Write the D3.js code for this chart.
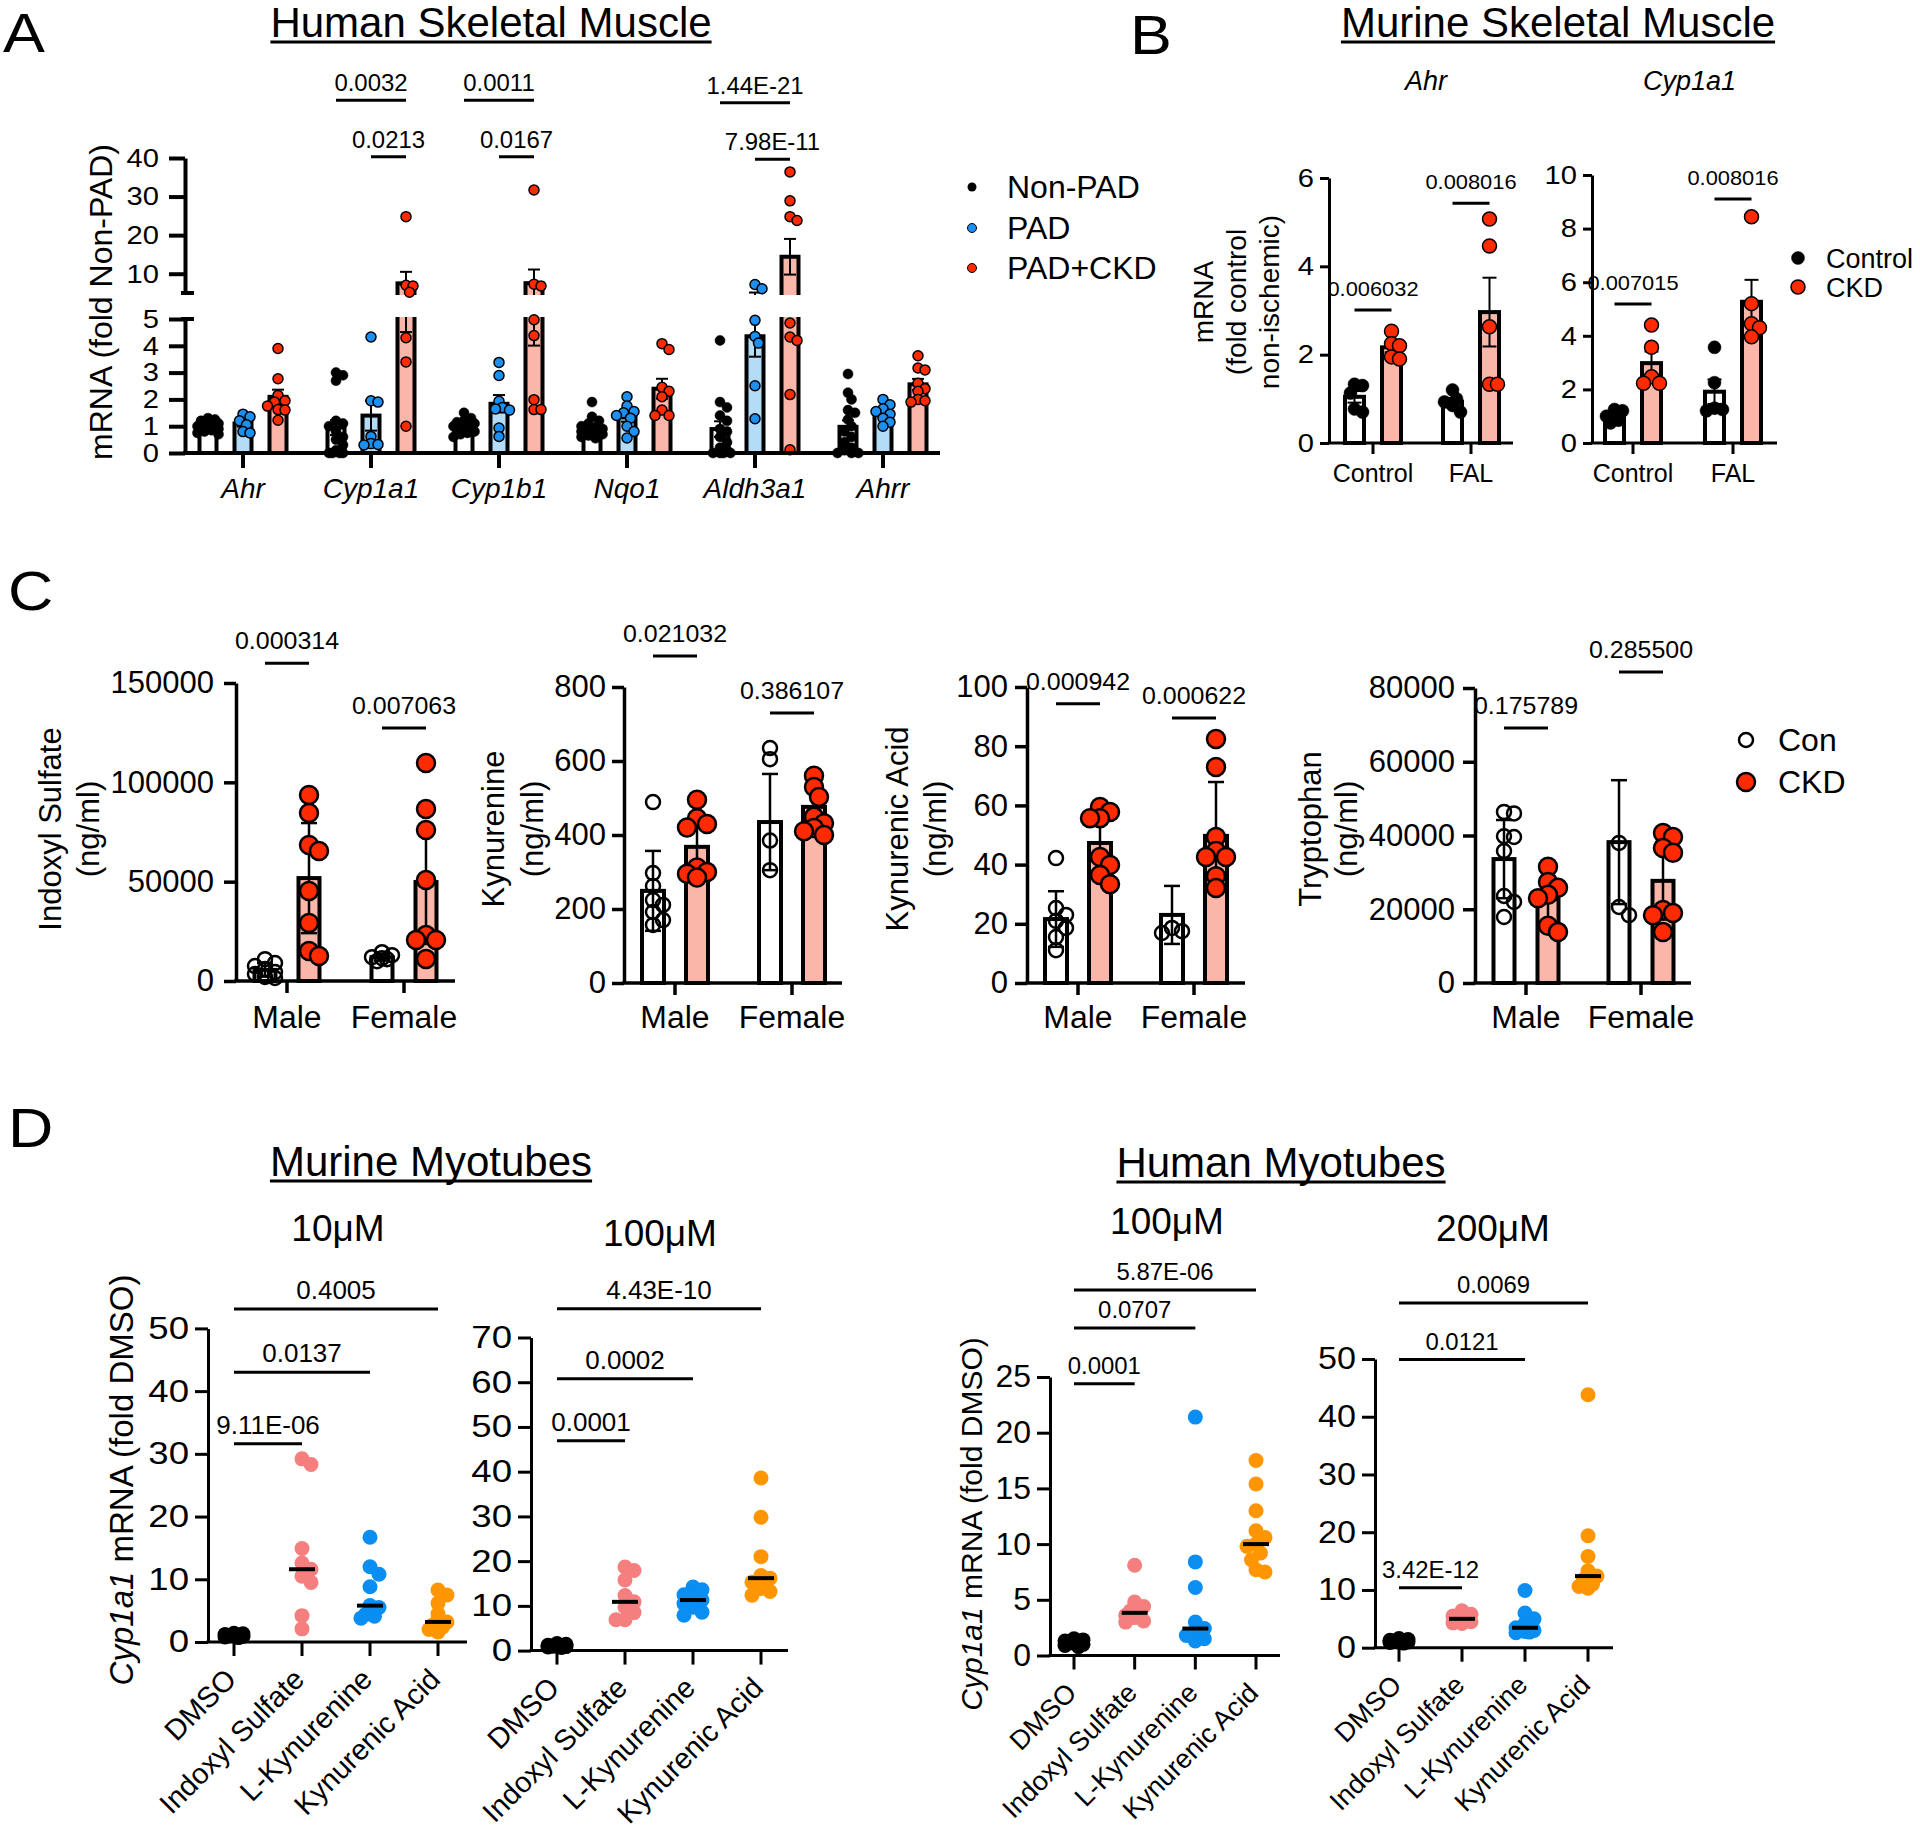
<!DOCTYPE html>
<html><head><meta charset="utf-8">
<script src="https://cdn.jsdelivr.net/npm/d3@7"></script>
<style>body{margin:0;background:#fff}svg{display:block}</style>
</head><body>
<script>
// ===================== DATA =====================
// Panel A – Human skeletal muscle (fold Non-PAD)
const aGenes = ["Ahr","Cyp1a1","Cyp1b1","Nqo1","Aldh3a1","Ahrr"];
const aGroups = ["Non-PAD","PAD","PAD+CKD"];
const aNonPAD = [
  [1.3,1.25,1.2,1.15,1.1,1.05,1.0,1.0,0.95,0.9,0.9,0.85,0.8,0.75,0.7],
  [3.0,2.9,2.7,1.2,1.1,1.0,0.8,0.6,0.5,0.3,0.1,0,0,0,0],
  [1.5,1.3,1.2,1.15,1.1,1.05,1.0,1.0,0.95,0.9,0.85,0.8,0.75,0.7,0.6],
  [1.9,1.35,1.2,1.1,1.0,0.95,0.9,0.85,0.8,0.75,0.7,0.65,0.6,0.55],
  [4.2,1.9,1.7,1.4,1.2,0.9,0.8,0.6,0.4,0.2,0.1,0,0,0,0],
  [2.95,2.25,2.0,1.6,1.5,1.25,1.0,0.8,0.6,0.4,0.2,0.1,0,0,0]
];
const aPAD = [
  [1.45,1.35,1.2,1.05,0.8,0.75],
  [4.33,1.95,1.9,0.62,0.35,0.32,0.3],
  [3.38,2.89,1.93,1.7,1.64,1.6,0.93,0.62],
  [2.1,1.75,1.55,1.5,1.4,1.3,1.0,0.8,0.56],
  [7.2,6.1,4.95,4.35,4.1,2.51,1.28],
  [2.0,1.8,1.65,1.55,1.45,1.3,1.15,1.0]
];
const aPADCKD = [
  [3.9,2.77,2.15,1.95,1.9,1.75,1.62,1.6,1.22],
  [24.8,7.0,6.8,5.2,4.3,3.4,1.0],
  [31.7,7.3,6.8,4.97,4.38,1.99,1.62,1.62],
  [4.08,3.86,2.45,2.3,2.1,1.6,1.4,1.4],
  [36.4,28.9,24.8,23.8,4.85,4.33,4.2,2.18,0.12],
  [3.63,3.17,3.1,2.6,2.4,2.3,2.0,1.95,1.9]
];
const aLowTicks = [0,1,2,3,4,5];
const aHighTicks = [10,20,30,40];
const aSigGene = ["Cyp1a1","Cyp1a1","Cyp1b1","Cyp1b1","Aldh3a1","Aldh3a1"];
const aSigFrom = [0,1,0,1,0,1];
const aSigTo = [2,2,2,2,2,2];
const aSigP = ["0.0032","0.0213","0.0011","0.0167","1.44E-21","7.98E-11"];
const aSigLevel = [55,40.3,55,40.3,54.3,39.7];

// Panel B – Murine skeletal muscle
const bSurgery = ["Control","FAL"];
const bSeries = ["Control","CKD"];
const bAhrControl = [[1.33,1.3,1.13,0.77,0.7],[1.2,1.0,0.93,0.85,0.7]];
const bAhrCKD = [[2.53,2.25,2.2,1.95,1.9],[5.07,4.46,2.63,1.33,1.33]];
const bCypControl = [[1.25,1.2,1.0,0.85,0.75],[3.57,2.25,1.3,1.25,1.2]];
const bCypCKD = [[4.4,3.57,2.47,2.23,2.23],[8.44,5.2,4.45,4.3,3.96]];
const bAhrTicks = [0,2,4,6];
const bCypTicks = [0,2,4,6,8,10];
const bAhrP = ["0.006032","0.008016"];
const bAhrPLevel = [3.01,5.43];
const bCypP = ["0.007015","0.008016"];
const bCypPLevel = [5.19,9.1];

// Panel C – serum metabolites (mean, SD) [sex][Con, CKD]
const cSex = ["Male","Female"];
const cIndoxylCon = [[11000,9000,7500,6000,4500,3500,2000,1500],[14500,13000,12000,11500,11000,10000]];
const cIndoxylCKD = [[93600,84600,68500,65400,45300,29200,15100,12600],[109700,86600,76000,50800,23100,20600,20600,11100]];
const cIndoxylMean = [[5600,51800],[12000,49800]];
const cIndoxylSD = [[3400,27700],[1700,26200]];
const cIndoxylTicks = [0,50000,100000,150000];
const cIndoxylP = ["0.000314","0.007063"];
const cIndoxylPLevel = [160000,127350];

const cKynCon = [[489,297,262,224,211,192,170,157],[635,605,385,305]];
const cKynCKD = [[495,445,430,420,312,300,295,285],[560,530,503,449,432,419,410,400]];
const cKynMean = [[249,368],[435,476]];
const cKynSD = [[108,75],[130,55]];
const cKynTicks = [0,200,400,600,800];
const cKynP = ["0.021032","0.386107"];
const cKynPLevel = [884,730];

const cKACon = [[42.2,25.3,23,21,18.6,15.5,11.1],[18.6,17.5,16.9]];
const cKACKD = [[59.5,57.8,55.7,55.7,42.6,39.9,36.5,33.4],[82.4,73,49.3,44.6,42.6,42.6,36.1,32.1]];
const cKAMean = [[21.6,47.3],[23,49.7]];
const cKASD = [[9.4,10.5],[9.8,18.2]];
const cKATicks = [0,20,40,60,80,100];
const cKAP = ["0.000942","0.000622"];
const cKAPLevel = [94.3,89.5];

const cTrpCon = [[46400,46000,39800,39600,35800,23600,22000,17900],[38000,20600,18400]];
const cTrpCKD = [[31500,27400,25800,23900,23000,15500,13800],[40700,39600,36600,35300,19800,19000,18400,13800]];
const cTrpMean = [[33600,22800],[38200,27700]];
const cTrpSD = [[10600,6000],[16800,10500]];
const cTrpTicks = [0,20000,40000,60000,80000];
const cTrpP = ["0.175789","0.285500"];
const cTrpPLevel = [69150,84340];

// Panel D – myotubes (Cyp1a1 fold DMSO)
const dTreatments = ["DMSO","Indoxyl Sulfate","L-Kynurenine","Kynurenic Acid"];
const dMurine10 = [
  [1.4,1.3,1.2,1.1,1.0,0.9,0.8,0.7,1.0],
  [29.2,28.3,14.9,12.6,11.6,10.5,9.5,4.2,2.1],
  [16.7,12.0,10.8,8.8,5.8,5.5,4.4,4.1,3.8],
  [8.3,7.5,6.2,4.5,3.2,2.8,2.4,2.0,1.6]
];
const dMurine100 = [
  [1.6,1.4,1.2,1.1,1.0,0.9,0.8,0.7,1.0],
  [18.7,17.9,15.8,12.3,10.9,9.7,8.5,6.9,6.9],
  [14.2,13.6,12.5,11.9,11.3,10.5,9.7,8.6,7.9],
  [38.6,29.8,21.0,16.8,16.2,15.3,13.9,13.2,12.4]
];
const dHuman100 = [
  [1.5,1.4,1.3,1.2,1.1,1.0,0.9,0.8,1.2],
  [8.1,4.8,4.4,4.0,3.83,3.6,3.4,3.1,3.0],
  [21.4,8.4,6.1,3.0,2.42,2.0,1.8,1.5,1.3],
  [17.5,15.4,13.0,11.2,10.6,10.0,9.8,9.2,8.6,7.7,7.5]
];
const dHuman200 = [
  [1.6,1.4,1.3,1.2,1.1,1.0,0.9,0.8,1.0],
  [6.4,5.8,5.5,5.2,5.0,4.8,4.5,4.3,4.2],
  [9.9,6.0,5.0,4.2,3.45,3.0,2.8,2.7,2.6],
  [43.8,19.4,15.8,13.3,12.4,11.8,11.0,10.6,10.3]
];
const dM10Ticks = [0,10,20,30,40,50];
const dM100Ticks = [0,10,20,30,40,50,60,70];
const dH100Ticks = [0,5,10,15,20,25];
const dH200Ticks = [0,10,20,30,40,50];
const dM10P = ["9.11E-06","0.0137","0.4005"], dM10PLevel = [31.6,43,53.1];
const dM100P = ["0.0001","0.0002","4.43E-10"], dM100PLevel = [46.9,60.8,76.4];
const dH100P = ["0.0001","0.0707","5.87E-06"], dH100PLevel = [24.4,29.4,32.8];
const dH200P = ["3.42E-12","0.0121","0.0069"], dH200PLevel = [10.4,49.9,59.7];

// ===================== HELPERS =====================
const FONT = '"Liberation Sans", Arial, Helvetica, sans-serif';
const svg = d3.select("body").append("svg").attr("width",1920).attr("height",1830).attr("font-family",FONT);
svg.append("rect").attr("width",1920).attr("height",1830).attr("fill","#fff");
const defs = svg.append("defs");

function stretch(sel,k){
  if(!k||k===1)return;
  sel.each(function(){const w=this.getComputedTextLength();this.setAttribute("textLength",w*k);this.setAttribute("lengthAdjust","spacingAndGlyphs");});
}
function txt(g,x,y,s,size,o={}){
  const t=g.append("text").attr("x",x).attr("y",y).attr("font-size",size).attr("fill","#000").text(s);
  if(o.anchor)t.attr("text-anchor",o.anchor);
  if(o.italic)t.attr("font-style","italic");
  if(o.k)stretch(t,o.k);
  return t;
}
function vtxt(g,x,y,s,size){
  return g.append("text").attr("transform",`translate(${x},${y}) rotate(-90)`).attr("text-anchor","middle")
    .attr("dy","0.35em").attr("font-size",size).attr("fill","#000").text(s);
}
function titleU(g,cx,y,s,size){
  const t=txt(g,cx,y,s,size,{anchor:"middle"});
  const w=t.node().getComputedTextLength();
  g.append("line").attr("x1",cx-w/2).attr("x2",cx+w/2).attr("y1",y+5).attr("y2",y+5).attr("stroke","#000").attr("stroke-width",3);
}
function yAxis(g,x,scale,ticks,o){
  const a=g.append("g").attr("transform",`translate(${x},0)`)
    .call(d3.axisLeft(scale).tickValues(ticks).tickSize(o.size).tickPadding(o.pad).tickSizeOuter(0).tickFormat(d=>String(d)));
  a.attr("font-family",FONT).attr("font-size",o.font);
  a.select(".domain").attr("stroke","#000").attr("stroke-width",o.sw);
  a.selectAll(".tick line").attr("stroke","#000").attr("stroke-width",o.sw);
  a.selectAll(".tick text").attr("fill","#000");
  stretch(a.selectAll(".tick text"),o.k);
  return a;
}
function xAxisLine(g,x0,x1,y,ticksX,len,sw){
  g.append("line").attr("x1",x0-sw/2).attr("x2",x1).attr("y1",y).attr("y2",y).attr("stroke","#000").attr("stroke-width",sw);
  ticksX.forEach(tx=>g.append("line").attr("x1",tx).attr("x2",tx).attr("y1",y).attr("y2",y+len).attr("stroke","#000").attr("stroke-width",sw));
}
function errBar(g,cx,y1,y2,capW,sw){
  g.append("line").attr("x1",cx).attr("x2",cx).attr("y1",y1).attr("y2",y2).attr("stroke","#000").attr("stroke-width",sw);
  [y1,y2].forEach(yy=>g.append("line").attr("x1",cx-capW/2).attr("x2",cx+capW/2).attr("y1",yy).attr("y2",yy).attr("stroke","#000").attr("stroke-width",sw));
}
function sigBar(g,x1,x2,y,label,font,gap,sw){
  g.append("line").attr("x1",x1).attr("x2",x2).attr("y1",y).attr("y2",y).attr("stroke","#000").attr("stroke-width",sw);
  txt(g,(x1+x2)/2,y-gap,label,font,{anchor:"middle",k:1.04});
}
// deterministic beeswarm offsets
function swarm(vals,yf,minDist,step,maxOff){
  const idx=vals.map((v,i)=>i).sort((a,b)=>vals[b]-vals[a]);
  const placed=[],off=new Array(vals.length).fill(0);
  const nk=2*Math.floor(maxOff/step);
  idx.forEach(i=>{
    const y=yf(vals[i]);let best=0,bestScore=Infinity;
    for(let k=0;k<=nk;k++){
      const o=(k%2?1:-1)*Math.ceil(k/2)*step;
      let worst=0;
      for(const p of placed){const d=Math.hypot(o-p.o,y-p.y);if(d<minDist)worst=Math.max(worst,minDist-d);}
      if(worst===0){best=o;bestScore=0;break;}
      if(worst<bestScore){bestScore=worst;best=o;}
    }
    off[i]=best;placed.push({o:best,y});
  });
  return off;
}
function panelLetter(x,y,s){txt(svg,x,y,s,56,{k:1.12});}

// ===================== PANEL A =====================
(function(){
  const g=svg.append("g");
  panelLetter(3,52,"A");
  titleU(g,491,37,"Human Skeletal Muscle",42);
  const x=d3.scaleBand().domain(aGenes).range([179,947]);
  const off=[-35,0,35];
  const cx=(gene,s)=>x(gene)+x.bandwidth()/2+off[s];
  const yLow=d3.scaleLinear().domain([0,5]).range([453,319]);
  const yUp=d3.scaleLinear().domain([5,40]).range([293,158]);
  const y=v=>v<=5?yLow(v):yUp(v);
  const series=[aNonPAD,aPAD,aPADCKD];
  const fills=["#ffffff","#b5dcf7","#fab6a9"];
  const dots=["#000000","#1b8ff2","#ff2a00"];
  defs.append("clipPath").attr("id","aUp").append("rect").attr("x",0).attr("y",0).attr("width",1920).attr("height",295);
  defs.append("clipPath").attr("id","aLow").append("rect").attr("x",0).attr("y",317).attr("width",1920).attr("height",200);
  ["aUp","aLow"].forEach(id=>{
    const cg=g.append("g").attr("clip-path",`url(#${id})`);
    aGenes.forEach((gene,gi)=>series.forEach((ser,si)=>{
      const vals=ser[gi],m=d3.mean(vals),se=d3.deviation(vals)/Math.sqrt(vals.length);
      const c=cx(gene,si);
      cg.append("rect").attr("x",c-8.5).attr("width",17).attr("y",y(m)).attr("height",yLow(0)-y(m))
        .attr("fill",fills[si]).attr("stroke","#000").attr("stroke-width",4);
      errBar(cg,c,y(Math.max(0,m-se)),y(m+se),12,2);
    }));
  });
  const pg=g.append("g");
  aGenes.forEach((gene,gi)=>series.forEach((ser,si)=>{
    const vals=ser[gi],offs=swarm(vals,y,7,3.5,11);
    vals.forEach((v,i)=>pg.append("circle").attr("cx",cx(gene,si)+offs[i]).attr("cy",y(v)).attr("r",5)
      .attr("fill",dots[si]).attr("stroke","#000").attr("stroke-width",si?1.5:0.5));
  }));
  const ao={size:16,pad:10,font:26,sw:4,k:1.12};
  yAxis(g,185,yLow,aLowTicks,ao);
  yAxis(g,185,yUp,aHighTicks,ao);
  [293,319].forEach(yy=>g.append("line").attr("x1",181).attr("x2",194).attr("y1",yy).attr("y2",yy).attr("stroke","#000").attr("stroke-width",4));
  xAxisLine(g,185,940,453,aGenes.map(gn=>cx(gn,1)),15,4);
  aGenes.forEach(gn=>txt(g,cx(gn,1),498,gn,28,{anchor:"middle",italic:true}));
  vtxt(g,101,302,"mRNA (fold Non-PAD)",32);
  aSigGene.forEach((gn,i)=>sigBar(g,cx(gn,aSigFrom[i]),cx(gn,aSigTo[i]),yUp(aSigLevel[i]),aSigP[i],23,9,3));
  // legend
  aGroups.forEach((lab,i)=>{
    const yy=[187,228,268][i];
    g.append("circle").attr("cx",972).attr("cy",yy).attr("r",4.5).attr("fill",dots[i]).attr("stroke","#000").attr("stroke-width",i?1:0);
    txt(g,1007,yy+11,lab,32);
  });
})();

// ===================== PANEL B =====================
(function(){
  const g=svg.append("g");
  panelLetter(1130,54,"B");
  titleU(g,1558,37,"Murine Skeletal Muscle",42);
  const charts=[
    {gene:"Ahr",x0:1329,xEnd:1513,y0:443,y1:178,cats:[1373,1471],ticks:bAhrTicks,ctrl:bAhrControl,ckd:bAhrCKD,p:bAhrP,lv:bAhrPLevel},
    {gene:"Cyp1a1",x0:1592,xEnd:1777,y0:443,y1:175,cats:[1633,1733],ticks:bCypTicks,ctrl:bCypControl,ckd:bCypCKD,p:bCypP,lv:bCypPLevel}
  ];
  const fills=["#ffffff","#fab6a9"],dots=["#000000","#ff2a00"];
  charts.forEach(ch=>{
    const y=d3.scaleLinear().domain([0,d3.max(ch.ticks)]).range([ch.y0,ch.y1]);
    const x=d3.scalePoint().domain(bSurgery).range(ch.cats);
    const cg=g.append("g"),pg=g.append("g");
    bSurgery.forEach((s,si)=>[ch.ctrl,ch.ckd].forEach((ser,k)=>{
      const vals=ser[si],m=d3.mean(vals),se=d3.deviation(vals)/Math.sqrt(vals.length);
      const c=x(s)+(k?18.5:-18.5);
      cg.append("rect").attr("x",c-9.5).attr("width",19).attr("y",y(m)).attr("height",y(0)-y(m))
        .attr("fill",fills[k]).attr("stroke","#000").attr("stroke-width",4);
      errBar(cg,c,y(m-se),y(m+se),14,2);
      const offs=swarm(vals,y,9,4,9);
      vals.forEach((v,i)=>pg.append("circle").attr("cx",c+offs[i]).attr("cy",y(v)).attr("r",k?7:6.5)
        .attr("fill",dots[k]).attr("stroke","#000").attr("stroke-width",k?1.5:0.5));
    }));
    yAxis(g,ch.x0,y,ch.ticks,{size:9,pad:6,font:26,sw:3,k:1.12});
    xAxisLine(g,ch.x0,ch.xEnd,ch.y0,ch.cats,11,3);
    bSurgery.forEach(s=>txt(g,x(s),482,s,25,{anchor:"middle"}));
    bSurgery.forEach((s,si)=>sigBar(g,x(s)-18.5,x(s)+18.5,y(ch.lv[si]),ch.p[si],21,14,3));
    txt(g,(ch.x0+ch.xEnd)/2+5,90,ch.gene,27,{anchor:"middle",italic:true});
  });
  vtxt(g,1203,302,"mRNA",28);
  vtxt(g,1236,302,"(fold control",28);
  vtxt(g,1269,302,"non-ischemic)",28);
  bSeries.forEach((lab,i)=>{
    const yy=[258,287][i];
    g.append("circle").attr("cx",1798).attr("cy",yy).attr("r",i?7:6.5).attr("fill",dots[i]).attr("stroke","#000").attr("stroke-width",i?1.5:0.5);
    txt(g,1826,yy+10,lab,27);
  });
})();

// ===================== PANEL C =====================
(function(){
  const g=svg.append("g");
  panelLetter(8,610,"C");
  const charts=[
    {label:"Indoxyl Sulfate",lx:[50,88],x0:236,xEnd:455,y0:981,y1:683,cats:[287,404],off:22,bw:21,pad:10,
     con:cIndoxylCon,ckd:cIndoxylCKD,mean:cIndoxylMean,sd:cIndoxylSD,ticks:cIndoxylTicks,p:cIndoxylP,lv:cIndoxylPLevel},
    {label:"Kynurenine",lx:[493,532],x0:624,xEnd:842,y0:983,y1:687,cats:[675,792],off:22,bw:22,pad:6,
     con:cKynCon,ckd:cKynCKD,mean:cKynMean,sd:cKynSD,ticks:cKynTicks,p:cKynP,lv:cKynPLevel},
    {label:"Kynurenic Acid",lx:[897,935],x0:1027,xEnd:1245,y0:983,y1:687,cats:[1078,1194],off:22,bw:22,pad:7,
     con:cKACon,ckd:cKACKD,mean:cKAMean,sd:cKASD,ticks:cKATicks,p:cKAP,lv:cKAPLevel},
    {label:"Tryptophan",lx:[1310,1346],x0:1475,xEnd:1691,y0:983,y1:688,cats:[1526,1641],off:22,bw:21,pad:8,
     con:cTrpCon,ckd:cTrpCKD,mean:cTrpMean,sd:cTrpSD,ticks:cTrpTicks,p:cTrpP,lv:cTrpPLevel}
  ];
  const fills=["#ffffff","#fab6a9"];
  charts.forEach(ch=>{
    const y=d3.scaleLinear().domain([0,d3.max(ch.ticks)]).range([ch.y0,ch.y1]);
    const x=d3.scalePoint().domain(cSex).range(ch.cats);
    const bg=g.append("g"),eg=g.append("g"),pg=g.append("g");
    cSex.forEach((s,si)=>[ch.con,ch.ckd].forEach((ser,k)=>{
      const m=ch.mean[si][k],sd=ch.sd[si][k];
      const c=x(s)+(k?ch.off:-ch.off);
      bg.append("rect").attr("x",c-ch.bw/2).attr("width",ch.bw).attr("y",y(m)).attr("height",y(0)-y(m))
        .attr("fill",fills[k]).attr("stroke","#000").attr("stroke-width",4);
      errBar(eg,c,y(Math.max(0,m-sd)),y(m+sd),16,2.5);
      const vals=ser[si],offs=swarm(vals,y,11,5,12);
      vals.forEach((v,i)=>{
        const cc=pg.append("circle").attr("cx",c+offs[i]).attr("cy",y(v));
        if(k) cc.attr("r",9).attr("fill","#ff2a00").attr("stroke","#000").attr("stroke-width",2.5);
        else cc.attr("r",7).attr("fill","none").attr("stroke","#000").attr("stroke-width",2.5);
      });
    }));
    yAxis(g,ch.x0,y,ch.ticks,{size:12,pad:ch.pad,font:31,sw:3.5});
    xAxisLine(g,ch.x0,ch.xEnd,ch.y0,ch.cats,12,3.5);
    cSex.forEach(s=>txt(g,x(s),1028,s,31,{anchor:"middle",k:1.03}));
    cSex.forEach((s,si)=>sigBar(g,x(s)-ch.off,x(s)+ch.off,y(ch.lv[si]),ch.p[si],24,14,3));
    vtxt(g,ch.lx[0],829,ch.label,31);
    vtxt(g,ch.lx[1],829,"(ng/ml)",31);
  });
  g.append("circle").attr("cx",1746).attr("cy",740).attr("r",7).attr("fill","none").attr("stroke","#000").attr("stroke-width",2.5);
  txt(g,1778,751,"Con",32);
  g.append("circle").attr("cx",1746).attr("cy",782).attr("r",9).attr("fill","#ff2a00").attr("stroke","#000").attr("stroke-width",2.5);
  txt(g,1778,793,"CKD",32);
})();

// ===================== PANEL D =====================
(function(){
  const g=svg.append("g");
  panelLetter(8,1147,"D");
  titleU(g,431,1176,"Murine Myotubes",42);
  titleU(g,1281,1177,"Human Myotubes",42);
  const colors=["#000000","#f57f7f","#0b8ef2","#ff9500"];
  const charts=[
    {title:"10\u03bcM",tx:338,ty:1241,x0:208,xEnd:467,y0:1642,y1:1328.4,cats:[234,438],data:dMurine10,ticks:dM10Ticks,p:dM10P,lv:dM10PLevel,lab:29,pf:25,k:1.18},
    {title:"100\u03bcM",tx:660,ty:1246,x0:531,xEnd:788,y0:1650.6,y1:1337.5,cats:[557,761],data:dMurine100,ticks:dM100Ticks,p:dM100P,lv:dM100PLevel,lab:29,pf:25,k:1.18},
    {title:"100\u03bcM",tx:1167,ty:1234,x0:1050,xEnd:1280,y0:1655.5,y1:1377,cats:[1074,1256],data:dHuman100,ticks:dH100Ticks,p:dH100P,lv:dH100PLevel,lab:27,pf:23,k:1.03},
    {title:"200\u03bcM",tx:1493,ty:1241,x0:1375,xEnd:1613,y0:1647.7,y1:1359,cats:[1399,1588],data:dHuman200,ticks:dH200Ticks,p:dH200P,lv:dH200PLevel,lab:27,pf:23,k:1.1}
  ];
  charts.forEach(ch=>{
    const y=d3.scaleLinear().domain([0,d3.max(ch.ticks)]).range([ch.y0,ch.y1]);
    const x=d3.scalePoint().domain(dTreatments).range(ch.cats);
    const pg=g.append("g");
    dTreatments.forEach((t,ti)=>{
      const vals=ch.data[ti],offs=swarm(vals,y,9.5,4.5,13);
      vals.forEach((v,i)=>pg.append("circle").attr("cx",x(t)+offs[i]).attr("cy",y(v)).attr("r",7.5).attr("fill",colors[ti]));
      const md=d3.median(vals);
      pg.append("line").attr("x1",x(t)-13).attr("x2",x(t)+13).attr("y1",y(md)).attr("y2",y(md)).attr("stroke","#000").attr("stroke-width",4);
    });
    yAxis(g,ch.x0,y,ch.ticks,{size:13,pad:6,font:31,sw:3,k:ch.k});
    xAxisLine(g,ch.x0,ch.xEnd,ch.y0,dTreatments.map(t=>x(t)),14,3);
    dTreatments.forEach(t=>g.append("text").attr("transform",`translate(${x(t)+4},${ch.y0+39}) rotate(-45)`)
      .attr("text-anchor","end").attr("font-size",ch.lab).attr("fill","#000").text(t));
    [1,2,3].forEach((ti,i)=>sigBar(g,x(dTreatments[0]),x(dTreatments[ti]),y(ch.lv[i]),ch.p[i],ch.pf,10,3));
    txt(g,ch.tx,ch.ty,ch.title,37,{anchor:"middle"});
  });
  [[121,1480,33],[971,1524,30]].forEach(([lx,ly,fs])=>{
    const t=g.append("text").attr("transform",`translate(${lx},${ly}) rotate(-90)`).attr("text-anchor","middle")
      .attr("dy","0.35em").attr("font-size",fs).attr("fill","#000");
    t.append("tspan").attr("font-style","italic").text("Cyp1a1");
    t.append("tspan").text(" mRNA (fold DMSO)");
  });
})();
</script>
</body></html>
